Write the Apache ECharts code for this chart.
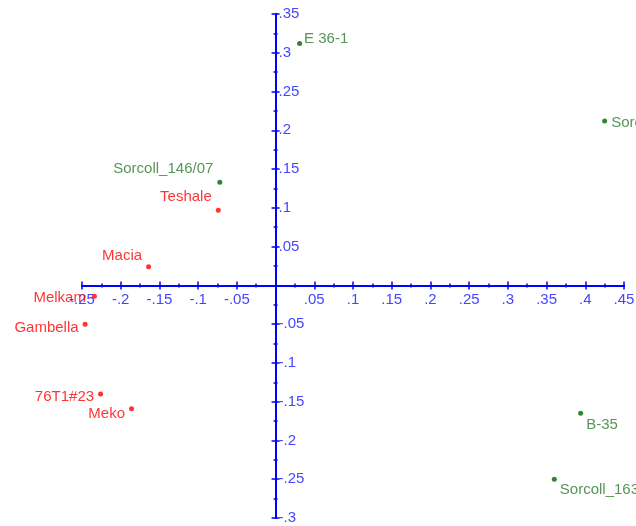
<!DOCTYPE html>
<html>
<head>
<meta charset="utf-8">
<script src="https://cdn.jsdelivr.net/npm/echarts@6/dist/echarts.min.js"></script>
<style>
  html, body { margin: 0; padding: 0; background: #ffffff; }
  #chart { width: 636px; height: 526px; }
</style>
</head>
<body>
<div id="chart"></div>
<script>
// Landraces (red) and improved lines (green), plotted on the first two axes
const redNames = ['Teshale', 'Macia', 'Melkam', 'Gambella', '76T1#23', 'Meko'];
const redX = [-0.074, -0.164, -0.234, -0.246, -0.226, -0.186];
const redY = [0.097, 0.024, -0.014, -0.050, -0.140, -0.159];

const greenNames = ['E 36-1', 'Sorcoll', 'Sorcoll_146/07', 'B-35', 'Sorcoll_163'];
const greenX = [0.031, 0.425, -0.072, 0.394, 0.360];
const greenY = [0.312, 0.212, 0.133, -0.165, -0.250];

const xTicks = { min: -0.25, max: 0.45, step: 0.05 };
const yTicks = { min: -0.30, max: 0.35, step: 0.05 };

// label placement for each point: [position, dx, dy]
const placement = {
  'Teshale': ['left', 0, -13],
  'Macia': ['left', 0, -11],
  'Melkam': ['left', -2, 2],
  'Gambella': ['left', 0, 4],
  '76T1#23': ['left', 0, 3],
  'Meko': ['left', 0, 5],
  'E 36-1': ['right', -2, -5],
  'Sorcoll': ['right', 0, 2],
  'Sorcoll_146/07': ['left', 0, -13],
  'B-35': ['right', -1, 12],
  'Sorcoll_163': ['right', -1, 11]
};

const FONT = '"Liberation Sans", Arial, sans-serif';
const AXIS_BLUE = '#0000ff';
const LABEL_BLUE = '#4646ff';
const GRID = { left: 82, right: 12, top: 14, bottom: 8 };

function fmt(v) {
  const r = Math.round(v * 1000) / 1000;
  if (r === 0) return '';
  return String(r).replace('0.', '.');
}

function points(names, xs, ys, color) {
  return names.map((n, i) => {
    const p = placement[n];
    return {
      name: n,
      value: [xs[i], ys[i]],
      label: {
        show: true,
        formatter: n,
        position: p[0],
        distance: 4,
        offset: [p[1], p[2]],
        color: color,
        fontFamily: FONT,
        fontSize: 15
      }
    };
  });
}

// Axes are shifted onto the zero lines with `offset`, so ticks and labels follow the line.
// Two copies of each axis draw the ticks on both sides of the line.
function xAxisDef(withLabels, tickInside, offset) {
  return {
    type: 'value',
    position: 'bottom',
    offset: offset,
    min: xTicks.min, max: xTicks.max, interval: xTicks.step,
    axisLine: { onZero: false, lineStyle: { color: AXIS_BLUE, width: 2 } },
    axisTick: { show: true, inside: tickInside, length: 4, lineStyle: { color: AXIS_BLUE, width: 1.5 } },
    minorTick: { show: true, splitNumber: 2, length: 2, lineStyle: { color: AXIS_BLUE, width: 1.5 } },
    axisLabel: {
      show: withLabels, formatter: fmt, color: LABEL_BLUE, fontFamily: FONT, fontSize: 15,
      margin: 7, showMinLabel: true, showMaxLabel: true
    },
    splitLine: { show: false }
  };
}

function yAxisDef(withLabels, tickInside, offset) {
  return {
    type: 'value',
    position: 'left',
    offset: offset,
    min: yTicks.min, max: yTicks.max, interval: yTicks.step,
    axisLine: { onZero: false, lineStyle: { color: AXIS_BLUE, width: 2 } },
    axisTick: { show: true, inside: tickInside, length: 4, lineStyle: { color: AXIS_BLUE, width: 1.5 } },
    minorTick: { show: true, splitNumber: 2, length: 2, lineStyle: { color: AXIS_BLUE, width: 1.5 } },
    axisLabel: {
      show: withLabels, inside: true, formatter: fmt, color: LABEL_BLUE, fontFamily: FONT, fontSize: 15,
      margin: 3, showMinLabel: true, showMaxLabel: true
    },
    splitLine: { show: false }
  };
}

function buildAxes(xOff, yOff, labels) {
  return {
    xAxis: [xAxisDef(labels, false, xOff), xAxisDef(false, true, xOff)],
    yAxis: [yAxisDef(labels, false, yOff), yAxisDef(false, true, yOff)]
  };
}

const chart = echarts.init(document.getElementById('chart'), null, { renderer: 'canvas' });
// First pass without labels so the grid keeps its full size.
const axes = buildAxes(0, 0, false);
chart.setOption({
  animation: false,
  backgroundColor: '#ffffff',
  grid: Object.assign({ containLabel: false, outerBoundsMode: 'none' }, GRID),
  xAxis: axes.xAxis,
  yAxis: axes.yAxis,
  series: [
    {
      type: 'scatter', xAxisIndex: 0, yAxisIndex: 0,
      symbol: 'circle', symbolSize: 5,
      itemStyle: { color: '#ff0000' },
      data: points(redNames, redX, redY, '#ff0000'),
      z: 3
    },
    {
      type: 'scatter', xAxisIndex: 0, yAxisIndex: 0,
      symbol: 'circle', symbolSize: 5,
      itemStyle: { color: '#006400' },
      data: points(greenNames, greenX, greenY, '#2a7a2a'),
      z: 3
    }
  ]
});

// Move both axes to cross at the origin, using the grid's own scales.
const origin = chart.convertToPixel({ gridIndex: 0 }, [0, 0]);
const gridBottomY = chart.getHeight() - GRID.bottom;
const moved = buildAxes(-(gridBottomY - origin[1]), -(origin[0] - GRID.left), true);
chart.setOption({ xAxis: moved.xAxis, yAxis: moved.yAxis });
</script>
</body>
</html>
